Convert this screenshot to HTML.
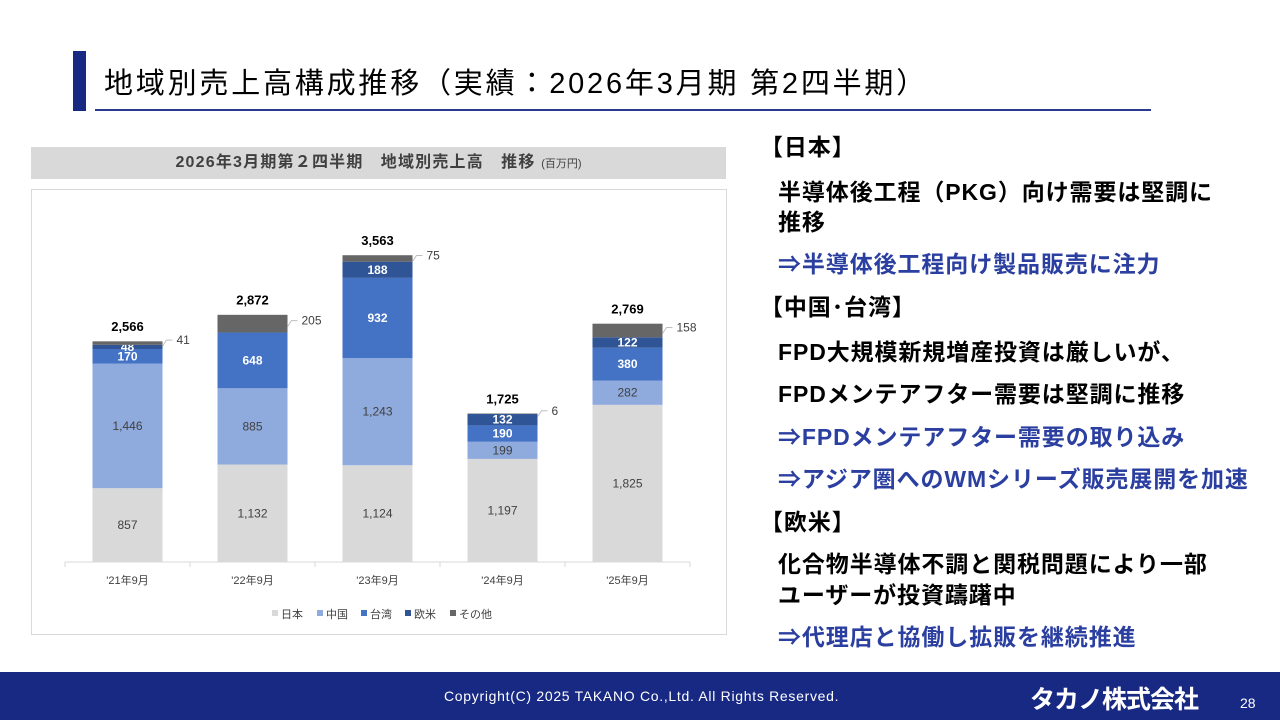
<!DOCTYPE html>
<html><head><meta charset="utf-8">
<style>
body{margin:0;width:1280px;height:720px;position:relative;background:#fff;font-family:"Liberation Sans","Noto Sans CJK JP",sans-serif;overflow:hidden}
.abs{position:absolute}
.rt{position:absolute;left:760px;font-weight:bold;font-size:23px;letter-spacing:0.9px;white-space:nowrap;color:#000}
.rt.i{left:778px}
.rt.b{color:#2b3fa0;left:778px}
</style></head><body>
<div class="abs" style="left:73px;top:51px;width:13px;height:60px;background:#172983"></div>
<div class="abs" style="left:104px;top:60px;font-size:29px;letter-spacing:2.8px;color:#000;white-space:nowrap">地域別売上高構成推移（実績：2026年3月期 第2四半期）</div>
<div class="abs" style="left:95px;top:109px;width:1056px;height:2px;background:#2b3a8f"></div>

<div class="abs" style="left:31px;top:147px;width:695px;height:32px;background:#d9d9d9;text-align:center;line-height:32px;font-weight:bold;font-size:16px;letter-spacing:1.2px;color:#404040">2026年3月期第２四半期　地域別売上高　推移 <span style="font-size:11px;font-weight:normal;letter-spacing:0">(百万円)</span></div>
<div class="abs" style="left:31px;top:189px;width:694px;height:444px;border:1px solid #d9d9d9"></div>
<svg class="abs" style="left:0;top:0" width="1280" height="720" id="chart"></svg>

<div class="rt" style="top:128px">【日本】</div>
<div class="rt i" style="top:173px">半導体後工程（PKG）向け需要は堅調に</div>
<div class="rt i" style="top:203px">推移</div>
<div class="rt b" style="top:245px">⇒半導体後工程向け製品販売に注力</div>
<div class="rt" style="top:288px">【中国･台湾】</div>
<div class="rt i" style="top:333px">FPD大規模新規増産投資は厳しいが、</div>
<div class="rt i" style="top:375px">FPDメンテアフター需要は堅調に推移</div>
<div class="rt b" style="top:418px">⇒FPDメンテアフター需要の取り込み</div>
<div class="rt b" style="top:460px">⇒アジア圏へのWMシリーズ販売展開を加速</div>
<div class="rt" style="top:503px">【欧米】</div>
<div class="rt i" style="top:545px">化合物半導体不調と関税問題により一部</div>
<div class="rt i" style="top:576px">ユーザーが投資躊躇中</div>
<div class="rt b" style="top:618px">⇒代理店と協働し拡販を継続推進</div>

<div class="abs" style="left:0;top:672px;width:1280px;height:48px;background:#172983"></div>
<div class="abs" style="left:444px;top:688px;font-size:14px;letter-spacing:0.7px;color:#fff;white-space:nowrap">Copyright(C) 2025 TAKANO Co.,Ltd. All Rights Reserved.</div>
<div class="abs" style="left:1030px;top:680px;font-size:25px;font-weight:bold;color:#fff;white-space:nowrap;letter-spacing:-1px">タカノ株式会社</div>
<div class="abs" style="left:1240px;top:695px;font-size:14px;color:#fff">28</div>

<script>
const categories=["'21年9月","'22年9月","'23年9月","'24年9月","'25年9月"];
const seriesNames=["日本","中国","台湾","欧米","その他"];
const japan=[857,1132,1124,1197,1825];
const china=[1446,885,1243,199,282];
const taiwan=[170,648,932,190,380];
const western=[48,0,188,132,122];
const other=[41,205,75,6,158];
const totals=[2566,2872,3563,1725,2769];
const colors=["#d9d9d9","#8faadc","#4472c4","#2f5597","#666666"];
const svg=document.getElementById('chart');
const NS="http://www.w3.org/2000/svg";
const base=562,scale=221/2566,x0=65,x1=690,bw=70;
const slot=(x1-x0)/categories.length;
const xc=i=>x0+slot*(i+0.5);
const yv=v=>base-v*scale;
function mk(t,a){const e=document.createElementNS(NS,t);for(const k in a)e.setAttribute(k,a[k]);svg.appendChild(e);return e;}
const series=[japan,china,taiwan,western,other];
const axis=mk('line',{x1:x0,x2:x1,y1:base,y2:base,stroke:'#d9d9d9'});


categories.forEach((c,i)=>{
  let cum=0;
  series.forEach((s,k)=>{
    const v=s[i];const y=yv(cum+v);const h=v*scale;
    const r=mk('rect',{x:xc(i)-bw/2,y:y,width:bw,height:h,fill:colors[k]});
    
    
    if(v>0){
      if(k<4){
        const t=mk('text',{x:xc(i),y:y+h/2+4,'text-anchor':'middle','font-size':12,fill:k<=1?'#404040':'#fff','font-weight':k>=2?'bold':'normal'});
        t.textContent=v.toLocaleString('en-US');
        
        
      }else{
        const ly=y+h/2;
        mk('polyline',{points:`${xc(i)+bw/2},${ly+3} ${xc(i)+bw/2+4},${ly-3} ${xc(i)+bw/2+10},${ly-3}`,fill:'none',stroke:'#bfbfbf'});
        const t=mk('text',{x:xc(i)+bw/2+14,y:ly+1,'font-size':12,fill:'#404040'});
        t.textContent=v.toLocaleString('en-US');
        
        
      }
    }
    cum+=v;
  });
  const tt=mk('text',{x:xc(i),y:yv(totals[i])-10,'text-anchor':'middle','font-size':13,'font-weight':'bold',fill:'#000'});
  tt.textContent=totals[i].toLocaleString('en-US');
  
  
  mk('line',{x1:x0+slot*i,x2:x0+slot*i,y1:base,y2:base+5,stroke:'#d9d9d9'});
  const cl=mk('text',{x:xc(i),y:base+22,'text-anchor':'middle','font-size':11,fill:'#404040'});
  cl.textContent=c;
  
  
});
mk('line',{x1:x1,x2:x1,y1:base,y2:base+5,stroke:'#d9d9d9'});
const lx=[272,317,361,405,450];
seriesNames.forEach((n,k)=>{
  const r=mk('rect',{x:lx[k],y:610,width:6,height:6,fill:colors[k]});
  
  
  const t=mk('text',{x:lx[k]+9,y:618,'font-size':11,fill:'#404040'});
  t.textContent=n;
  
  
});
</script>
</body></html>
